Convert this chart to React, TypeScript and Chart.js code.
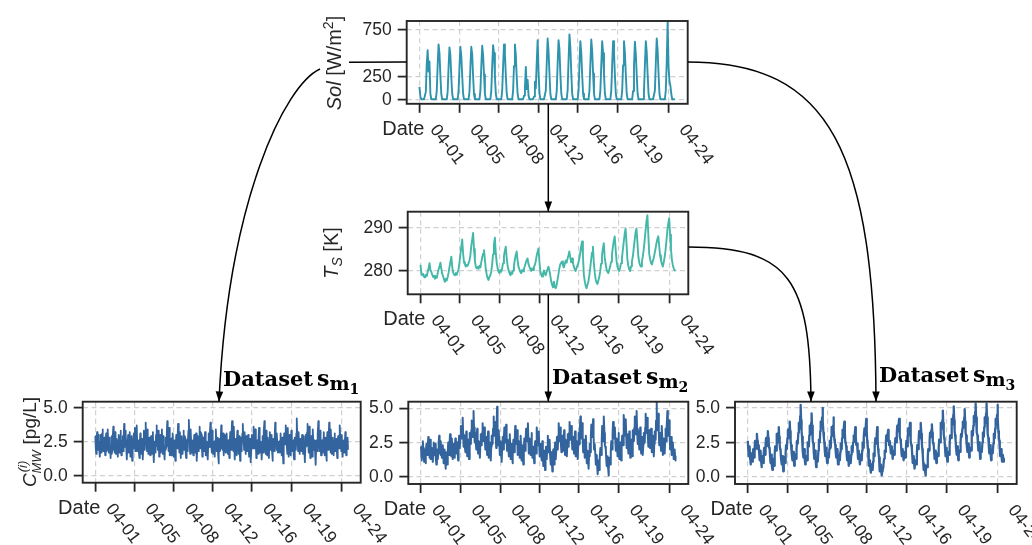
import React, { useEffect, useRef } from 'react';
import { Chart, registerables } from 'chart.js';

Chart.register(...registerables);

// ---------- data (x in days since 04-01) ----------
const STEP_2H = 1 / 12; // Sol and T_S: 2-hourly samples
const STEP_1H = 1 / 24; // C_MW series: hourly samples
const X_TICKS = [0, 3.64, 7.28, 10.9, 14.52, 18.2, 22.84];
const X_TICK_LABELS = ['04-01', '04-05', '04-08', '04-12', '04-16', '04-19', '04-24'];

const SOL_TICKS = [0, 250, 750];
const SOL_TICK_LABELS = ['0', '250', '750'];
const TS_TICKS = [280, 290];
const TS_TICK_LABELS = ['280', '290'];
const C_TICKS = [0, 2.5, 5];
const C_TICK_LABELS = ['0.0', '2.5', '5.0'];

const SOL = [
  134, 30, 0, 0, 0, 0, 0, 80, 380, 533, 300, 410,
  60, 0, 0, 0, 0, 0, 0, 90, 360, 594, 500, 260,
  60, 0, 0, 0, 0, 0, 0, 80, 340, 562, 480, 250,
  60, 0, 0, 0, 0, 0, 0, 85, 345, 569, 470, 260,
  60, 0, 0, 0, 0, 0, 0, 80, 340, 569, 490, 250,
  55, 0, 0, 0, 0, 0, 0, 90, 350, 580, 480, 270,
  60, 0, 0, 0, 0, 0, 0, 85, 360, 587, 500, 250,
  60, 0, 0, 0, 0, 0, 0, 90, 355, 594, 490, 260,
  60, 0, 0, 0, 0, 0, 0, 90, 360, 594, 480, 240,
  55, 0, 0, 0, 0, 0, 0, 40, 120, 351, 110, 210,
  40, 0, 0, 0, 0, 0, 30, 190, 120, 400, 641, 300,
  70, 0, 0, 0, 0, 0, 0, 95, 390, 659, 520, 280,
  60, 0, 0, 0, 0, 0, 0, 90, 380, 641, 540, 270,
  65, 0, 0, 0, 0, 0, 0, 100, 420, 703, 560, 290,
  60, 0, 0, 0, 0, 0, 0, 90, 370, 630, 500, 260,
  60, 0, 0, 0, 0, 0, 0, 95, 380, 648, 520, 280,
  60, 0, 0, 0, 0, 0, 0, 90, 370, 630, 500, 270,
  60, 0, 0, 0, 0, 0, 0, 90, 370, 630, 510, 260,
  60, 0, 0, 0, 0, 0, 0, 90, 370, 630, 500, 270,
  60, 0, 0, 0, 0, 0, 0, 90, 360, 623, 490, 260,
  60, 0, 0, 0, 0, 0, 0, 90, 370, 630, 510, 270,
  60, 0, 0, 0, 0, 0, 0, 95, 390, 659, 530, 280,
  60, 0, 0, 0, 0, 0, 0, 100, 400, 833, 350, 200,
  150, 60, 0, 0, 0, 0,
];

const TS = [
  281.4, 279.6, 279.0, 279.3, 278.6, 278.5, 279.1, 278.8, 279.8, 280.6, 281.8, 280.2,
  279.8, 279.1, 278.6, 278.9, 278.2, 278.7, 278.4, 279.5, 280.4, 281.0, 281.9, 280.5,
  279.3, 278.8, 278.0, 277.5, 278.2, 277.8, 278.6, 279.6, 280.9, 282.1, 283.3, 281.0,
  279.6, 279.2, 279.0, 279.5, 279.1, 279.8, 280.4, 281.9, 283.8, 285.6, 287.3, 284.0,
  282.0, 281.5, 281.0, 281.4, 281.2, 281.8, 282.4, 283.6, 285.8, 287.2, 288.8, 285.0,
  282.3, 281.0, 280.6, 280.9, 280.5, 281.2, 280.8, 282.0, 283.1, 284.0, 284.8, 282.6,
  280.4, 279.2, 278.3, 277.9, 278.6, 279.0, 279.8, 281.6, 283.9, 286.2, 287.7, 284.1,
  282.0, 280.6, 279.9, 279.5, 280.2, 279.8, 280.6, 281.8, 283.4, 284.7, 285.6, 283.0,
  281.2, 280.2, 279.6, 279.0, 279.7, 279.3, 280.1, 281.2, 282.6, 283.7, 284.5, 282.4,
  281.0, 280.4, 279.8, 279.5, 280.2, 279.9, 280.5, 281.1, 281.9, 282.5, 282.9, 281.6,
  281.0, 280.5, 280.0, 280.6, 280.2, 280.9, 281.4, 282.2, 283.5, 284.4, 285.2, 282.3,
  280.0, 279.2, 278.7, 279.4, 280.1, 279.3, 279.0, 279.8, 280.4, 281.0, 280.2, 279.0,
  277.6, 276.8, 276.2, 277.5, 276.3, 276.0, 276.7, 277.9, 279.2, 280.6, 281.5, 281.9,
  282.2, 281.3, 280.8, 281.6, 282.4, 281.9, 282.8, 283.6, 284.5, 283.2, 282.0, 282.9,
  281.8, 281.0, 280.4, 280.0, 280.7, 281.3, 281.9, 282.8, 284.2, 285.6, 286.8, 283.5,
  279.2, 277.6, 276.6, 276.0, 276.8, 277.5, 278.9, 280.6, 282.5, 284.3, 285.6, 282.0,
  279.6, 278.1, 277.3, 277.0, 277.8, 278.6, 279.9, 281.7, 283.6, 285.2, 286.4, 283.1,
  281.6, 280.4, 279.8, 279.5, 280.3, 281.0, 282.1, 283.7, 285.5, 287.0, 288.0, 285.2,
  282.4, 281.0, 280.3, 280.0, 280.8, 281.8, 283.0, 284.9, 286.8, 288.6, 289.8, 286.4,
  282.6, 281.2, 280.4, 280.0, 281.1, 282.2, 283.4, 285.3, 287.2, 288.9, 289.8, 286.6,
  283.4, 282.0, 281.3, 281.0, 282.2, 283.4, 285.0, 287.1, 289.4, 291.5, 292.9, 288.6,
  284.0, 282.7, 281.9, 281.5, 282.3, 283.0, 284.1, 285.2, 286.4, 287.4, 288.0, 285.8,
  283.6, 282.4, 281.6, 281.0, 282.0, 283.2, 284.8, 287.0, 289.3, 291.0, 292.2, 288.4,
  285.0, 282.6, 281.4, 280.6, 280.2, 280.0,
];

const C_M1 = [
  2.9, 2.0, 1.6, 2.7, 3.2, 2.4, 1.9, 3.0, 2.6, 1.8, 1.4, 2.5, 3.0, 1.7, 2.2, 3.1, 3.4, 2.3, 1.8, 2.6, 2.8, 2.0, 1.5, 2.4,
  3.1, 1.8, 2.0, 2.9, 3.4, 2.2, 1.7, 2.8, 2.5, 1.9, 1.3, 2.2, 2.9, 1.6, 1.9, 3.0, 3.6, 2.7, 2.3, 1.7, 3.2, 2.5, 1.6, 2.3,
  2.7, 2.1, 1.4, 2.4, 3.0, 1.7, 2.1, 2.9, 3.3, 2.0, 1.5, 2.3, 2.6, 2.9, 1.8, 2.7, 3.8, 2.1, 2.4, 3.3, 3.1, 1.9, 1.2, 2.0,
  2.5, 3.0, 1.7, 2.3, 3.2, 2.5, 1.4, 2.2, 2.9, 1.9, 1.1, 2.0, 2.7, 3.1, 2.0, 2.6, 3.5, 1.8, 2.2, 3.0, 3.7, 2.6, 1.8, 2.1,
  2.6, 1.9, 1.3, 2.5, 3.1, 2.6, 2.0, 1.6, 2.7, 2.1, 1.2, 2.4, 3.3, 2.5, 1.9, 3.0, 3.9, 3.0, 2.5, 1.8, 3.4, 2.3, 1.6, 2.0,
  2.8, 2.2, 1.5, 2.4, 2.9, 1.6, 1.8, 2.7, 3.2, 2.0, 1.0, 1.9, 2.5, 1.7, 2.1, 3.0, 3.7, 2.2, 2.6, 1.9, 3.3, 2.6, 1.4, 2.2,
  3.0, 2.3, 1.7, 2.6, 3.4, 2.4, 1.6, 2.9, 2.4, 1.8, 1.2, 2.1, 2.8, 1.9, 2.2, 3.2, 4.0, 2.9, 2.3, 1.8, 3.5, 2.4, 1.5, 2.1,
  2.7, 1.5, 1.9, 2.8, 3.1, 2.2, 1.4, 2.0, 2.6, 1.8, 1.1, 2.3, 3.0, 2.5, 2.0, 2.9, 3.8, 2.7, 2.4, 1.7, 3.2, 2.2, 1.3, 2.1,
  2.9, 2.4, 1.6, 2.5, 3.3, 2.6, 1.9, 2.9, 2.7, 1.7, 1.3, 2.2, 2.6, 1.8, 2.3, 3.3, 4.1, 3.0, 2.1, 1.6, 3.4, 2.5, 1.7, 2.3,
  2.6, 1.9, 1.5, 2.4, 3.0, 2.3, 1.7, 2.2, 3.1, 2.0, 1.1, 2.1, 2.9, 2.4, 1.8, 2.7, 3.6, 2.0, 2.5, 3.2, 3.0, 2.1, 1.4, 2.2,
  2.8, 2.3, 1.8, 2.6, 3.2, 2.0, 1.5, 2.4, 2.5, 1.6, 1.2, 2.2, 3.1, 2.6, 2.1, 3.0, 3.9, 2.8, 2.2, 1.7, 3.3, 2.4, 1.6, 1.9,
  2.5, 2.0, 1.4, 2.6, 3.4, 2.5, 1.8, 2.3, 2.8, 1.6, 0.9, 1.9, 2.7, 1.8, 2.0, 2.9, 3.7, 2.3, 2.6, 1.9, 3.1, 2.2, 1.5, 2.4,
  3.0, 2.4, 1.7, 2.3, 3.1, 2.2, 1.6, 2.5, 2.6, 1.9, 1.3, 2.4, 3.2, 2.6, 1.9, 3.1, 4.0, 2.9, 2.3, 1.8, 3.6, 2.3, 1.2, 2.0,
  2.7, 2.1, 1.5, 2.5, 3.3, 2.7, 2.0, 1.6, 2.9, 2.0, 1.1, 2.2, 2.8, 1.8, 2.2, 3.1, 3.8, 2.7, 2.4, 1.9, 3.2, 2.5, 1.6, 2.3,
  2.9, 2.2, 1.8, 2.6, 3.0, 2.1, 1.4, 2.3, 2.7, 1.7, 1.0, 2.0, 3.0, 2.5, 2.0, 2.8, 3.6, 2.0, 2.5, 3.0, 3.4, 2.2, 1.3, 2.1,
  2.6, 2.0, 1.6, 2.8, 3.5, 2.4, 1.7, 2.2, 2.5, 1.8, 1.2, 2.3, 2.9, 1.7, 2.1, 3.2, 4.0, 2.8, 2.2, 1.6, 3.3, 2.6, 1.5, 2.0,
  2.8, 2.1, 1.3, 2.4, 3.2, 2.6, 1.9, 2.5, 3.0, 1.8, 1.1, 2.0, 2.7, 2.2, 1.8, 2.9, 3.9, 3.0, 2.6, 1.9, 3.1, 2.3, 1.7, 2.2,
  2.5, 1.9, 1.7, 2.6, 3.1, 2.0, 1.5, 2.3, 2.8, 1.7, 0.9, 2.1, 3.1, 2.5, 2.3, 3.0, 3.7, 2.6, 2.1, 1.6, 3.5, 2.4, 1.4, 2.3,
  3.0, 2.3, 1.5, 2.5, 3.3, 2.6, 1.8, 2.2, 2.6, 1.7, 1.2, 2.0, 2.8, 1.9, 2.0, 3.1, 4.2, 3.0, 2.4, 1.8, 3.2, 2.3, 1.6, 2.1,
  2.7, 2.2, 1.8, 2.5, 3.0, 2.3, 1.6, 2.4, 2.9, 1.8, 1.0, 2.1, 3.0, 2.4, 2.2, 3.2, 3.8, 2.7, 2.3, 1.7, 3.6, 2.5, 1.3, 2.0,
  2.9, 2.1, 1.4, 2.7, 3.4, 2.4, 1.9, 2.6, 2.5, 1.5, 0.8, 1.9, 2.6, 1.8, 2.1, 3.1, 4.0, 2.9, 2.5, 1.8, 3.3, 2.4, 1.5, 2.2,
  2.6, 1.9, 1.7, 2.7, 3.2, 2.2, 1.5, 2.3, 2.8, 1.8, 1.1, 2.2, 3.2, 2.5, 1.9, 2.9, 3.9, 2.7, 2.2, 1.7, 3.4, 2.4, 1.6, 2.2,
  2.8, 2.2, 1.5, 2.4, 3.1, 2.5, 1.8, 2.2, 2.7, 1.9, 1.3, 2.3, 2.9, 2.1, 2.0, 3.0, 3.7, 2.6, 2.4, 1.8, 3.0, 2.2, 1.4, 2.1,
  2.6, 2.0, 1.7, 2.5, 3.2, 2.3, 1.5, 2.1, 2.4, 2.8, 1.9,
];

const C_M2 = [
  2.2, 1.6, 1.2, 2.0, 2.6, 2.1, 1.5, 1.1, 2.0, 1.6, 1.0, 1.8, 2.4, 2.0, 1.6, 2.3, 2.9, 2.4, 1.9, 1.4, 2.7, 2.0, 1.3, 1.8,
  2.1, 1.5, 1.1, 1.9, 2.5, 2.0, 1.6, 2.4, 2.2, 1.4, 0.9, 1.6, 2.0, 1.3, 1.7, 2.5, 3.0, 2.6, 2.2, 1.6, 2.6, 1.9, 1.4, 1.9,
  2.3, 1.7, 1.0, 1.5, 2.0, 1.3, 0.6, 1.2, 1.8, 1.4, 0.9, 1.7, 2.5, 1.9, 1.6, 2.4, 3.1, 2.5, 2.0, 1.5, 2.8, 2.1, 1.3, 1.8,
  2.4, 1.9, 1.4, 2.2, 2.8, 2.3, 1.7, 2.1, 2.5, 1.8, 1.2, 2.2, 3.0, 2.5, 2.1, 3.0, 3.7, 3.2, 2.8, 3.5, 4.3, 3.1, 2.2, 2.6,
  3.0, 2.3, 1.8, 2.6, 3.3, 2.4, 1.5, 2.2, 2.7, 1.9, 1.3, 2.4, 3.2, 2.7, 2.4, 3.4, 4.1, 3.3, 2.9, 3.9, 4.8, 3.6, 2.5, 2.9,
  3.2, 2.5, 2.0, 2.9, 3.5, 2.6, 1.7, 2.3, 2.6, 1.9, 1.4, 2.4, 3.1, 2.5, 2.3, 3.2, 3.9, 3.1, 2.6, 3.0, 3.6, 2.7, 2.0, 2.5,
  2.9, 2.2, 1.6, 2.5, 3.3, 2.3, 1.4, 2.0, 2.5, 1.8, 1.2, 2.2, 3.0, 2.6, 2.4, 3.5, 4.4, 3.6, 3.0, 3.4, 4.0, 3.0, 2.1, 3.9,
  5.1, 3.4, 2.3, 2.9, 3.4, 2.4, 1.6, 2.2, 2.6, 1.7, 1.1, 2.0, 2.9, 2.3, 2.0, 2.9, 3.6, 2.8, 2.5, 3.2, 3.8, 2.7, 1.9, 2.4,
  2.7, 2.0, 1.5, 2.4, 3.1, 2.1, 1.3, 1.9, 2.4, 1.6, 1.0, 1.9, 2.7, 2.2, 1.8, 2.8, 3.7, 2.9, 2.4, 2.9, 3.4, 2.5, 1.6, 2.2,
  2.6, 1.9, 1.4, 2.3, 3.0, 2.0, 1.2, 1.8, 2.3, 1.5, 0.9, 1.8, 2.8, 2.3, 1.9, 2.7, 3.5, 2.9, 2.6, 3.3, 3.9, 2.8, 1.7, 2.3,
  2.8, 2.1, 1.6, 2.5, 3.2, 2.2, 1.4, 1.9, 2.2, 1.5, 1.0, 1.8, 2.6, 2.0, 1.7, 2.7, 3.6, 2.8, 2.3, 2.8, 3.3, 2.3, 1.5, 2.0,
  2.4, 1.7, 1.2, 2.0, 2.6, 1.6, 0.8, 1.4, 1.9, 1.0, 0.5, 1.4, 2.2, 1.7, 1.3, 2.2, 3.0, 2.3, 1.8, 2.3, 2.7, 1.6, 0.9, 1.5,
  1.8, 1.0, 0.4, 1.3, 2.0, 1.5, 0.9, 1.8, 2.5, 1.9, 1.3, 2.2, 2.9, 2.4, 2.0, 3.0, 3.9, 3.1, 2.6, 3.1, 3.6, 2.6, 1.8, 2.5,
  3.0, 2.4, 1.9, 2.8, 3.4, 2.4, 1.6, 2.2, 2.7, 2.0, 1.5, 2.4, 3.1, 2.6, 2.2, 3.2, 4.0, 3.2, 2.7, 3.1, 3.7, 2.8, 2.0, 2.5,
  2.9, 2.2, 1.7, 2.6, 3.3, 2.3, 1.5, 2.1, 2.6, 1.9, 1.3, 2.3, 3.2, 2.7, 2.4, 3.4, 4.4, 3.5, 2.8, 3.3, 3.9, 2.8, 1.8, 2.3,
  2.7, 2.0, 1.4, 2.3, 3.0, 1.9, 1.0, 1.4, 1.9, 1.2, 0.6, 1.5, 2.4, 1.9, 1.8, 2.9, 3.8, 3.2, 2.9, 3.6, 4.2, 3.0, 2.0, 2.3,
  2.4, 1.6, 0.9, 1.3, 1.6, 0.8, 0.2, 0.7, 1.2, 0.9, 0.5, 1.3, 2.1, 1.8, 1.6, 2.7, 3.7, 3.0, 2.6, 3.5, 4.4, 3.2, 2.3, 2.2,
  2.0, 1.3, 0.8, 1.2, 1.5, 0.7, 0.1, 0.6, 1.4, 1.1, 0.9, 1.8, 2.6, 2.2, 2.0, 3.1, 4.0, 3.3, 2.8, 3.2, 3.6, 2.7, 1.9, 2.4,
  2.8, 2.1, 1.5, 2.4, 3.2, 2.2, 1.3, 1.9, 2.5, 1.8, 1.2, 2.2, 3.0, 2.6, 2.3, 3.5, 4.5, 3.6, 3.0, 3.7, 4.2, 3.1, 2.1, 2.7,
  3.1, 2.3, 1.7, 2.6, 3.3, 2.3, 1.4, 2.0, 2.7, 2.1, 1.5, 2.5, 3.4, 2.9, 2.6, 3.6, 4.4, 3.7, 3.1, 4.0, 4.8, 3.5, 2.4, 2.9,
  3.3, 2.6, 2.0, 2.9, 3.6, 2.6, 1.7, 2.3, 2.9, 2.2, 1.6, 2.4, 3.2, 2.8, 2.5, 3.6, 4.6, 3.8, 3.2, 3.8, 4.3, 3.2, 2.2, 2.8,
  3.4, 2.7, 2.1, 2.9, 3.5, 2.6, 1.8, 2.5, 3.0, 2.2, 1.5, 2.4, 3.3, 2.9, 2.7, 4.1, 5.5, 4.2, 3.4, 4.0, 4.6, 3.3, 2.3, 2.8,
  3.2, 2.5, 1.9, 2.9, 3.7, 2.6, 1.6, 2.2, 2.8, 2.3, 1.7, 2.6, 3.5, 3.0, 2.6, 3.7, 4.8, 3.8, 3.0, 3.6, 4.1, 3.0, 2.0, 2.5,
  2.9, 2.2, 1.6, 2.1, 2.5, 1.9, 1.3, 1.8, 2.0, 1.5, 1.2,
];

const C_M3 = [
  2.6, 2.0, 1.5, 1.9, 2.2, 1.4, 0.9, 1.3, 1.7, 1.2, 1.1, 1.6, 2.0, 1.6, 1.4, 2.1, 2.6, 2.3, 2.0, 2.6, 3.1, 2.6, 2.2, 2.0,
  2.3, 1.7, 1.2, 1.6, 1.9, 1.2, 0.7, 1.1, 1.5, 1.1, 1.0, 1.7, 2.1, 1.8, 1.6, 2.3, 2.8, 2.4, 2.2, 2.9, 3.3, 2.8, 2.4, 2.1,
  2.0, 1.4, 1.0, 1.4, 1.6, 0.9, 0.5, 0.9, 1.3, 1.0, 0.8, 1.6, 2.2, 2.0, 1.9, 2.6, 3.1, 2.7, 2.5, 3.2, 3.6, 2.9, 2.3, 2.0,
  1.9, 1.3, 0.9, 1.3, 1.5, 0.8, 0.4, 0.9, 1.4, 1.1, 1.0, 1.7, 2.3, 2.1, 2.0, 2.8, 3.4, 3.0, 2.8, 3.5, 4.0, 3.3, 2.6, 2.3,
  2.2, 1.6, 1.2, 1.6, 1.8, 1.2, 0.8, 1.2, 1.6, 1.4, 1.3, 2.0, 2.6, 2.5, 2.4, 3.2, 3.9, 3.6, 3.5, 4.4, 5.2, 4.1, 3.3, 2.9,
  2.7, 1.9, 1.4, 1.8, 2.0, 1.3, 0.9, 1.3, 1.5, 1.3, 1.2, 1.9, 2.5, 2.3, 2.2, 3.0, 3.7, 3.3, 3.1, 3.9, 4.6, 3.7, 3.0, 2.6,
  2.4, 1.7, 1.3, 1.7, 1.9, 1.2, 0.7, 1.1, 1.4, 1.2, 1.1, 1.9, 2.7, 2.6, 2.5, 3.3, 4.0, 3.7, 3.6, 4.3, 5.0, 4.0, 3.2, 2.8,
  2.5, 1.9, 1.5, 1.9, 2.1, 1.5, 1.0, 1.4, 1.7, 1.5, 1.4, 2.0, 2.6, 2.3, 2.1, 2.9, 3.6, 3.2, 3.0, 3.7, 4.3, 3.4, 2.7, 2.5,
  2.3, 1.8, 1.4, 1.8, 2.0, 1.4, 0.9, 1.3, 1.6, 1.3, 1.2, 1.8, 2.4, 2.1, 2.0, 2.8, 3.4, 3.1, 2.9, 3.5, 4.0, 3.2, 2.5, 2.4,
  2.2, 1.6, 1.2, 1.6, 1.8, 1.3, 0.8, 1.2, 1.5, 1.2, 1.0, 1.6, 2.2, 1.9, 1.8, 2.5, 3.0, 2.8, 2.6, 3.2, 3.6, 2.9, 2.3, 2.3,
  2.4, 1.8, 1.3, 1.7, 1.9, 1.3, 0.9, 1.3, 1.6, 1.3, 1.2, 1.9, 2.5, 2.3, 2.1, 2.9, 3.5, 3.2, 3.0, 3.7, 4.2, 3.3, 2.6, 2.3,
  2.0, 1.3, 0.8, 1.1, 1.2, 0.6, 0.3, 0.6, 0.9, 0.6, 0.5, 1.1, 1.7, 1.6, 1.5, 2.2, 2.8, 2.5, 2.4, 3.1, 3.6, 2.7, 2.0, 1.7,
  1.4, 0.8, 0.4, 0.7, 0.9, 0.4, 0.1, 0.4, 0.7, 0.6, 0.6, 1.3, 1.9, 1.9, 1.8, 2.5, 3.0, 2.7, 2.6, 3.1, 3.4, 2.8, 2.3, 2.5,
  2.6, 2.1, 1.7, 2.0, 2.2, 1.7, 1.3, 1.6, 1.9, 1.7, 1.6, 2.2, 2.8, 2.6, 2.5, 3.2, 3.7, 3.4, 3.3, 3.8, 4.2, 3.5, 2.9, 2.7,
  2.5, 1.9, 1.5, 1.8, 2.0, 1.5, 1.2, 1.5, 1.8, 1.6, 1.4, 2.0, 2.6, 2.4, 2.2, 2.9, 3.5, 3.2, 3.0, 3.5, 3.9, 3.2, 2.6, 2.3,
  2.1, 1.5, 1.0, 1.3, 1.5, 1.0, 0.6, 0.9, 1.2, 1.0, 0.9, 1.6, 2.3, 2.1, 2.0, 2.7, 3.3, 3.0, 2.8, 3.4, 3.9, 3.1, 2.4, 2.0,
  1.6, 1.0, 0.5, 0.7, 0.9, 0.4, 0.1, 0.4, 0.8, 0.7, 0.7, 1.4, 2.0, 2.0, 1.9, 2.6, 3.2, 3.0, 2.9, 3.4, 3.8, 3.2, 2.6, 2.4,
  2.3, 1.8, 1.3, 1.6, 1.9, 1.4, 1.0, 1.4, 1.7, 1.6, 1.5, 2.1, 2.7, 2.6, 2.5, 3.3, 3.9, 3.7, 3.5, 4.1, 4.8, 3.9, 3.1, 2.8,
  2.6, 2.0, 1.5, 1.8, 2.1, 1.6, 1.1, 1.5, 1.8, 1.7, 1.6, 2.3, 3.0, 2.9, 2.8, 3.6, 4.2, 4.0, 3.8, 4.5, 5.1, 4.1, 3.3, 3.0,
  2.7, 2.1, 1.6, 1.9, 2.2, 1.7, 1.2, 1.6, 1.9, 1.9, 1.8, 2.5, 3.1, 3.0, 2.9, 3.5, 4.0, 3.8, 3.6, 4.3, 4.9, 4.0, 3.2, 3.0,
  2.9, 2.3, 1.8, 2.1, 2.4, 1.9, 1.4, 1.8, 2.1, 2.0, 1.9, 2.6, 3.3, 3.1, 3.0, 3.7, 4.4, 4.2, 4.0, 4.7, 5.3, 4.3, 3.5, 3.2,
  3.0, 2.4, 1.9, 2.2, 2.5, 1.9, 1.3, 1.7, 2.0, 1.9, 1.8, 2.5, 3.2, 3.0, 2.9, 3.6, 4.3, 4.1, 3.9, 4.6, 5.3, 4.3, 3.4, 3.1,
  2.8, 2.2, 1.7, 2.0, 2.3, 1.7, 1.2, 1.6, 1.9, 1.8, 1.7, 2.4, 3.1, 2.9, 2.8, 3.5, 4.2, 4.0, 3.8, 4.5, 5.2, 4.2, 3.3, 2.9,
  2.6, 2.0, 1.5, 1.8, 2.0, 1.5, 1.1, 1.4, 1.6, 1.3, 1.1,
];

// ---------- layout & style ----------
const W = 1032;
const H = 545;
const X_MIN = -1.17;
const X_MAX = 24.59;
const TICK_LEN = 9;
const INK = '#262626';
const GRID = '#d0d0d0';
const SANS = '"Liberation Sans", Arial, Helvetica, sans-serif';
const SERIF = '"DejaVu Serif", serif';

type Panel = {
  id: string;
  values: number[];
  step: number;
  color: string;
  lineWidth: number;
  area: { left: number; top: number; right: number; bottom: number };
  yMin: number;
  yMax: number;
  yTicks: number[];
  yLabels: string[];
};

const PANELS: Panel[] = [
  { id: 'sol', values: SOL, step: STEP_2H, color: '#2e93ad', lineWidth: 1.9, area: { left: 406.7, top: 21, right: 687.7, bottom: 103.8 }, yMin: -49, yMax: 848, yTicks: SOL_TICKS, yLabels: SOL_TICK_LABELS },
  { id: 'ts', values: TS, step: STEP_2H, color: '#44b8a8', lineWidth: 1.9, area: { left: 407.7, top: 211.7, right: 688.3, bottom: 294.3 }, yMin: 274.6, yMax: 293.7, yTicks: TS_TICKS, yLabels: TS_TICK_LABELS },
  { id: 'm1', values: C_M1, step: STEP_1H, color: '#34649e', lineWidth: 1.8, area: { left: 82.7, top: 401.7, right: 360.7, bottom: 482.7 }, yMin: -0.51, yMax: 5.43, yTicks: C_TICKS, yLabels: C_TICK_LABELS },
  { id: 'm2', values: C_M2, step: STEP_1H, color: '#34649e', lineWidth: 2.0, area: { left: 408.3, top: 401.7, right: 688.3, bottom: 484 }, yMin: -0.51, yMax: 5.47, yTicks: C_TICKS, yLabels: C_TICK_LABELS },
  { id: 'm3', values: C_M3, step: STEP_1H, color: '#34649e', lineWidth: 2.3, area: { left: 735, top: 401.7, right: 1016.7, bottom: 484 }, yMin: -0.52, yMax: 5.44, yTicks: C_TICKS, yLabels: C_TICK_LABELS },
];

function axesPlugin(p: Panel) {
  return {
    id: 'axesText_' + p.id,
    afterDraw(chart: any) {
      const ctx = chart.ctx as CanvasRenderingContext2D;
      const a = chart.chartArea;
      const xs = chart.scales.x;
      const ys = chart.scales.y;
      ctx.save();
      // spines
      ctx.strokeStyle = INK;
      ctx.lineWidth = 1.9;
      ctx.strokeRect(a.left, a.top, a.right - a.left, a.bottom - a.top);
      ctx.fillStyle = INK;
      // y tick labels
      ctx.font = '17.5px ' + SANS;
      ctx.textAlign = 'right';
      ctx.textBaseline = 'middle';
      p.yTicks.forEach((v, i) => {
        ctx.fillText(p.yLabels[i], a.left - 15, ys.getPixelForValue(v) + 0.5);
      });
      // x tick labels rotated clockwise
      ctx.textAlign = 'left';
      ctx.textBaseline = 'alphabetic';
      X_TICKS.forEach((v, i) => {
        const px = xs.getPixelForValue(v);
        ctx.save();
        ctx.translate(px + 10, a.bottom + 26);
        ctx.rotate((53 * Math.PI) / 180);
        ctx.fillText(X_TICK_LABELS[i], 0, 0);
        ctx.restore();
      });
      // "Date" label
      ctx.font = '20px ' + SANS;
      ctx.textAlign = 'right';
      ctx.fillText('Date', xs.getPixelForValue(X_TICKS[0]) + 5, a.bottom + 31);
      ctx.restore();
    },
  };
}

function buildConfig(p: Panel): any {
  const a = p.area;
  const grid = {
    color: GRID,
    lineWidth: 1.2,
    drawTicks: true,
    tickLength: TICK_LEN,
    tickColor: INK,
    tickWidth: 1.8,
  };
  const border = { display: false, dash: [5, 3.5] };
  return {
    type: 'line',
    data: {
      datasets: [
        {
          data: p.values.map((v, i) => ({ x: i * p.step, y: v })),
          borderColor: p.color,
          borderWidth: p.lineWidth,
          borderJoinStyle: 'round',
          pointRadius: 0,
          tension: 0,
          fill: false,
        },
      ],
    },
    options: {
      responsive: false,
      animation: false,
      events: [],
      devicePixelRatio: 1,
      layout: {
        padding: { left: a.left - TICK_LEN, top: a.top, right: W - a.right, bottom: H - a.bottom - TICK_LEN },
      },
      plugins: { legend: { display: false }, tooltip: { enabled: false }, title: { display: false } },
      scales: {
        x: {
          type: 'linear',
          bounds: 'data',
          min: X_MIN,
          max: X_MAX,
          afterBuildTicks: (s: any) => {
            s.ticks = X_TICKS.map((v) => ({ value: v }));
          },
          afterFit: (s: any) => {
            s.height = TICK_LEN;
          },
          ticks: { display: false },
          grid,
          border,
        },
        y: {
          type: 'linear',
          bounds: 'data',
          min: p.yMin,
          max: p.yMax,
          afterBuildTicks: (s: any) => {
            s.ticks = p.yTicks.map((v) => ({ value: v }));
          },
          afterFit: (s: any) => {
            s.width = TICK_LEN;
          },
          ticks: { display: false },
          grid,
          border,
        },
      },
    },
    plugins: [axesPlugin(p)],
  };
}

// ---------- annotation overlay (arrows + labels) ----------
type Arrow = { d: string; tip?: [number, number]; from?: [number, number] };
const ARROWS: Arrow[] = [
  { d: 'M406.5,62 L349,62.3' },
  { d: 'M320,69 C285,85 228,200 219,401.5', tip: [219, 401.5], from: [228, 200] },
  { d: 'M688,62 C830,62 875,150 876,401.5', tip: [876, 401.5], from: [875, 150] },
  { d: 'M548.3,104 L548.3,211.5', tip: [548.3, 211.5], from: [548.3, 104] },
  { d: 'M548.3,294.5 L548.3,401.5', tip: [548.3, 401.5], from: [548.3, 294.5] },
  { d: 'M688.5,247 C790,247 810,280 811,401.5', tip: [811, 401.5], from: [810, 280] },
];

function headPoints(tip: [number, number], from: [number, number]) {
  const dx = tip[0] - from[0];
  const dy = tip[1] - from[1];
  const len = Math.hypot(dx, dy) || 1;
  const ux = dx / len;
  const uy = dy / len;
  const L = 10;
  const Wd = 3.8;
  const bx = tip[0] - ux * L;
  const by = tip[1] - uy * L;
  return `${tip[0]},${tip[1]} ${bx - uy * Wd},${by + ux * Wd} ${bx + uy * Wd},${by - ux * Wd}`;
}

const DATASET_LABELS = [
  { x: 223, y: 385.5, idx: '1' },
  { x: 552, y: 383.5, idx: '2' },
  { x: 879, y: 381.5, idx: '3' },
];

function Overlay() {
  return (
    <svg width={W} height={H} style={{ position: 'absolute', left: 0, top: 0, pointerEvents: 'none' }}>
      <g fill="none" stroke="#000" strokeWidth={1.5}>
        {ARROWS.map((a, i) => (
          <path key={i} d={a.d} />
        ))}
      </g>
      <g fill="#000" stroke="none">
        {ARROWS.filter((a) => a.tip).map((a, i) => (
          <polygon key={i} points={headPoints(a.tip as [number, number], a.from as [number, number])} />
        ))}
      </g>
      {/* y-axis titles */}
      <text transform="translate(341,63) rotate(-90)" textAnchor="middle" fontFamily={SANS} fontSize={20} fill={INK}>
        <tspan fontStyle="italic">Sol</tspan> [W/m<tspan fontSize={14} dy={-8}>2</tspan><tspan dy={8}>]</tspan>
      </text>
      <text transform="translate(338,253) rotate(-90)" textAnchor="middle" fontFamily={SANS} fontSize={20} fill={INK}>
        <tspan fontStyle="italic">T</tspan><tspan fontStyle="italic" fontSize={14} dy={4}>S</tspan><tspan dy={-4}> [K]</tspan>
      </text>
      <text transform="translate(36,442) rotate(-90)" textAnchor="middle" fontFamily={SANS} fontSize={19} fill={INK}>
        <tspan fontStyle="italic">C</tspan>
        <tspan fontStyle="italic" fontSize={13} dy={5}>MW</tspan>
        <tspan fontStyle="italic" fontSize={13} dx={-22} dy={-14}>(i)</tspan>
        <tspan dx={11} dy={9}> [pg/L]</tspan>
      </text>
      {/* dataset labels */}
      {DATASET_LABELS.map((l) => (
        <text key={l.idx} x={l.x} y={l.y} fontFamily={SERIF} fontWeight="bold" fontSize={21} fill="#000">
          Dataset
          <tspan dx={4} fontSize={22}>s</tspan>
          <tspan fontSize={19} dy={4}>m</tspan>
          <tspan fontSize={14} dy={4}>{l.idx}</tspan>
        </text>
      ))}
    </svg>
  );
}

export default function App() {
  const refs = useRef<(HTMLCanvasElement | null)[]>([]);
  useEffect(() => {
    const charts = PANELS.map((p, i) => new Chart(refs.current[i] as HTMLCanvasElement, buildConfig(p)));
    return () => charts.forEach((c) => c.destroy());
  }, []);
  return (
    <div style={{ position: 'absolute', left: 0, top: 0, width: W, height: H, background: '#fff', overflow: 'hidden' }}>
      {PANELS.map((p, i) => (
        <canvas
          key={p.id}
          ref={(el) => {
            refs.current[i] = el;
          }}
          width={W}
          height={H}
          style={{ position: 'absolute', left: 0, top: 0, width: W, height: H }}
        />
      ))}
      <Overlay />
    </div>
  );
}
